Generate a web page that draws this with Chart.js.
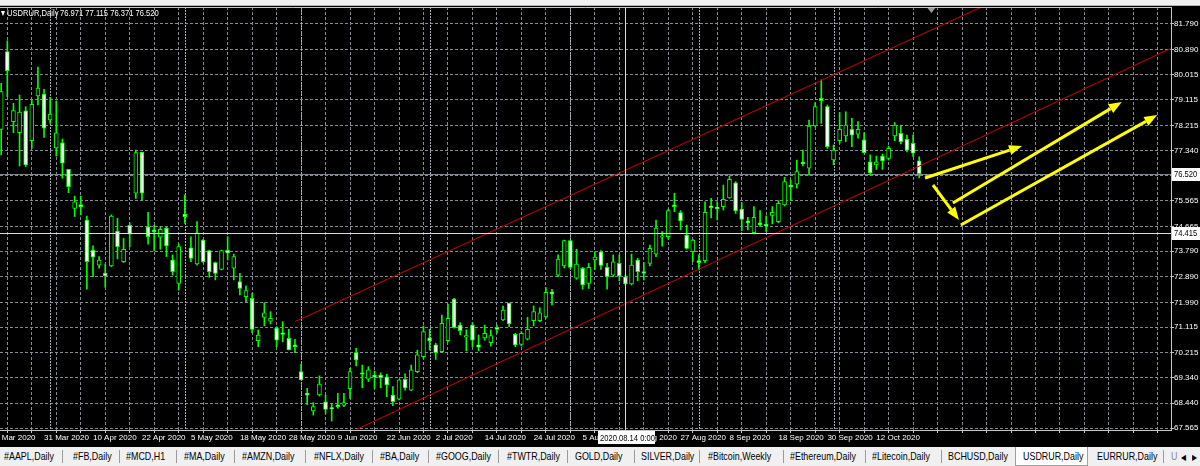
<!DOCTYPE html>
<html>
<head>
<meta charset="utf-8">
<title>USDRUR,Daily</title>
<script src="https://cdn.jsdelivr.net/npm/chart.js@4/dist/chart.umd.min.js"></script>
<style>
  html, body { margin:0; padding:0; width:1200px; height:466px; overflow:hidden; background:#f0f0f0; }
  body { position:relative; font-family:'Liberation Sans',Arial,sans-serif; }
  #topbar { position:absolute; left:0; top:0; width:1200px; height:6px; background:#f0f0f0; border-bottom:1px solid #b4b4b4; box-sizing:border-box; }
  #wrap { position:absolute; left:0; top:6px; width:1200px; height:441px; background:#000; }
  #hdr { position:absolute; left:0; top:7px; width:300px; height:12px; color:#fff; font-size:9.5px; line-height:12px; white-space:nowrap; pointer-events:none; }
  #hdr span { position:absolute; top:0; transform:scaleX(0.8); transform-origin:0 0; }
  #tabs { position:absolute; left:0; top:447px; width:1200px; height:19px; background:#f0f0f0; font-size:11px; line-height:17px; color:#000; }
  #tabs span { position:absolute; top:1px; white-space:nowrap; transform:scaleX(0.81); transform-origin:0 0; }
  #tabs i { position:absolute; top:3px; width:1px; height:13px; background:#9a9a9a; }
  #tabs b { position:absolute; top:0; height:19px; background:#fff; border:1px solid #a0a0a0; border-top:none; box-sizing:border-box; }
</style>
</head>
<body>
<div id="topbar"></div>
<div id="wrap"><canvas id="c" width="1200" height="441"></canvas></div>
<div id="hdr"><span style="left:1px">&#9662;</span><span style="left:7px">USDRUR,Daily</span><span style="left:60px">76.971 77.115 76.371 76.520</span></div>
<div id="tabs">
  <span style="left:4px">#AAPL,Daily</span><i style="left:62px"></i>
  <span style="left:73px">#FB,Daily</span><i style="left:119px"></i>
  <span style="left:126px">#MCD,H1</span><i style="left:176px"></i>
  <span style="left:184px">#MA,Daily</span><i style="left:234px"></i>
  <span style="left:242px">#AMZN,Daily</span><i style="left:305px"></i>
  <span style="left:314px">#NFLX,Daily</span><i style="left:372px"></i>
  <span style="left:380px">#BA,Daily</span><i style="left:428px"></i>
  <span style="left:436px">#GOOG,Daily</span><i style="left:498px"></i>
  <span style="left:507px">#TWTR,Daily</span><i style="left:567px"></i>
  <span style="left:575px">GOLD,Daily</span><i style="left:634px"></i>
  <span style="left:641px">SILVER,Daily</span><i style="left:699px"></i>
  <span style="left:708px">#Bitcoin,Weekly</span><i style="left:783px"></i>
  <span style="left:790px">#Ethereum,Daily</span><i style="left:865px"></i>
  <span style="left:872px">#Litecoin,Daily</span><i style="left:941px"></i>
  <span style="left:948px">BCHUSD,Daily</span>
  <b style="left:1015px;width:73px"></b>
  <span style="left:1023px">USDRUR,Daily</span>
  <span style="left:1097px">EURRUR,Daily</span><i style="left:1163px"></i>
  <span style="left:1171px;color:#888">U</span>
  <span style="left:1181px;font-size:8px;top:2px">&#9664;</span>
  <span style="left:1192px;font-size:8px;top:2px">&#9654;</span>
</div>
<script>
// ---------- data ----------
const xTickLabels = ['9 Mar 2020','31 Mar 2020','10 Apr 2020','22 Apr 2020','5 May 2020','18 May 2020','28 May 2020',
  '9 Jun 2020','22 Jun 2020','2 Jul 2020','14 Jul 2020','24 Jul 2020','5 Aug 2020','17 Aug 2020','27 Aug 2020',
  '8 Sep 2020','18 Sep 2020','30 Sep 2020','12 Oct 2020'];
const yTickValues = [81.790,80.890,80.015,79.115,78.215,77.340,76.440,75.565,74.665,73.790,72.890,71.990,71.115,70.215,69.340,68.440,67.565];
const monthStartIdx = [8,30,49,70,93,114,136];

const openP = [78.08,80.82,78.35,77.96,78.73,77.68,79.26,79.32,78.41,77.43,
  77.61,76.67,75.30,75.43,74.89,73.83,73.30,73.02,73.27,74.50,
  73.42,74.70,75.83,77.28,74.65,74.54,74.28,74.60,73.48,72.66,
  75.10,73.91,73.34,74.18,73.81,73.39,73.15,73.83,73.19,72.72,
  72.19,72.13,70.64,71.46,71.33,71.08,70.92,70.72,70.49,69.55,
  68.79,68.17,68.73,68.49,68.28,68.38,68.36,68.95,70.22,69.51,
  69.28,69.42,69.43,69.37,68.72,68.58,69.28,68.90,69.55,70.08,
  70.74,70.49,70.25,70.64,72.10,71.19,70.76,71.19,70.49,70.74,
  70.57,71.11,71.37,71.96,70.86,70.51,70.69,71.34,71.34,71.48,
  72.36,72.95,73.27,74.16,72.84,73.19,72.66,73.48,73.77,73.22,
  72.95,73.36,72.89,72.64,73.48,73.07,73.36,73.69,74.28,74.30,
  75.42,75.15,74.36,73.77,73.46,73.46,75.39,75.34,75.36,75.67,
  76.20,75.27,74.86,74.44,74.79,74.74,75.05,74.83,75.42,76.12,
  76.15,76.93,76.71,78.20,79.17,78.88,77.00,77.68,77.85,78.08,
  77.91,77.71,76.94,76.83,77.14,77.06,77.85,77.94,77.73,77.59,
  76.971];
const highP = [79.70,81.20,79.00,79.29,78.88,79.11,80.27,79.49,79.21,79.08,
  77.74,76.67,75.73,75.73,75.03,73.98,73.60,73.34,75.07,74.95,
  74.24,74.79,77.35,77.28,75.16,74.71,74.65,74.63,73.66,74.04,
  75.77,74.30,74.83,74.21,73.83,73.41,73.83,74.30,73.69,73.01,
  72.57,72.31,71.02,71.98,71.66,71.13,71.31,71.04,70.69,69.82,
  68.96,68.46,69.40,68.73,68.43,68.79,68.79,69.67,70.37,69.78,
  69.72,69.57,69.51,69.46,69.02,69.26,69.47,69.78,70.31,71.16,
  71.04,70.55,71.54,71.93,72.13,71.27,71.02,71.27,70.84,71.19,
  71.02,71.19,71.86,71.96,70.90,70.96,71.46,71.86,71.80,72.51,
  72.45,73.66,74.18,74.18,73.86,73.22,73.36,73.77,73.81,73.36,
  73.66,73.66,72.95,73.69,73.54,73.39,74.01,74.89,74.48,75.27,
  75.83,75.22,74.71,74.21,73.66,75.53,75.65,75.53,76.12,76.44,
  76.24,75.50,74.98,75.36,75.22,75.03,75.36,75.57,76.39,76.30,
  77.00,77.35,78.41,79.02,79.82,78.94,77.53,78.67,78.70,78.47,
  78.35,77.96,77.18,77.14,77.21,77.49,78.32,78.23,77.88,77.88,
  77.115];
const lowP = [77.18,79.23,77.96,76.79,76.77,77.41,78.94,77.80,78.29,77.14,
  76.36,75.85,75.01,75.07,72.45,72.89,73.19,72.52,73.24,73.52,
  73.39,73.95,75.65,75.59,74.04,73.80,73.86,73.60,72.95,72.42,
  74.77,73.42,73.30,73.39,72.87,72.78,73.13,73.48,72.78,72.25,
  72.01,70.92,70.43,71.16,71.23,70.43,70.60,70.31,70.22,69.26,
  68.38,68.02,68.69,68.08,67.81,68.26,68.32,68.61,69.75,68.98,
  69.20,68.96,68.98,68.67,68.35,68.55,68.90,68.88,69.51,70.02,
  70.31,69.98,70.22,70.60,71.08,70.84,70.28,70.43,70.28,70.66,
  70.45,70.90,71.34,71.13,70.43,70.45,70.66,71.16,71.31,71.43,
  71.90,72.89,73.20,73.16,72.80,72.45,72.48,73.15,73.15,72.45,
  72.89,72.75,72.60,72.60,72.75,72.78,73.27,73.60,73.97,74.21,
  75.18,74.54,73.86,73.42,73.13,73.39,74.96,74.89,75.24,75.65,
  75.12,74.51,74.54,74.40,74.65,74.48,74.75,74.79,75.38,75.57,
  76.01,76.79,76.47,78.17,78.29,77.41,76.83,77.59,77.65,77.47,
  77.77,77.24,76.47,76.67,76.67,77.00,77.68,77.57,77.29,77.12,
  76.371];
const closeP = [79.41,80.15,78.74,78.69,76.83,78.96,79.53,78.12,78.62,77.96,
  76.89,76.06,75.53,75.35,73.42,73.58,73.48,72.92,75.03,73.95,
  73.86,74.39,77.26,75.83,74.30,74.47,74.56,73.98,73.07,73.95,
  75.01,73.54,74.44,73.42,73.07,73.01,73.81,73.72,73.60,72.48,
  72.40,71.04,70.84,71.62,71.43,70.66,70.86,70.31,70.43,69.26,
  68.72,68.32,69.11,68.22,68.25,68.32,68.46,69.55,69.96,69.46,
  69.61,69.36,69.34,69.08,68.49,69.26,68.98,69.61,70.14,70.96,
  70.63,70.22,71.25,71.43,71.11,70.99,70.82,70.66,70.41,70.90,
  70.82,71.04,71.72,71.23,70.49,70.90,71.04,71.66,71.62,72.34,
  72.28,73.51,74.16,73.22,73.34,72.60,73.22,73.58,73.29,72.89,
  73.42,72.92,72.64,73.30,73.07,73.01,73.89,74.60,74.33,75.22,
  75.36,74.86,73.89,74.18,73.39,75.16,75.32,75.29,75.62,76.32,
  75.21,74.91,74.79,74.98,74.72,74.68,75.16,75.48,76.24,76.05,
  76.59,76.86,78.20,78.88,79.09,77.47,77.35,78.08,78.23,77.88,
  78.08,77.26,76.55,76.94,76.97,77.41,78.23,77.65,77.35,77.24,
  76.520];

// trend channel (bar index, price)
const upperChannel = [{x:48.0, y:71.31}, {x:170.0, y:83.36}];
const lowerChannel = [{x:58.1, y:67.52}, {x:191.0, y:80.92}];

// hand-drawn arrows (bar index, price)
const arrowFromIdx = [150.95, 152.25, 155.5, 156.8];
const arrowFromVal = [76.367, 76.121, 75.487, 74.713];
const arrowToIdx   = [166.8, 156.5, 183.1, 188.9];
const arrowToVal   = [77.494, 74.889, 79.044, 78.586];

const bidPrice = 76.520;
const crossIdx = 102;
const crossPrice = 74.415;
const crossLabel = '2020.08.14 0:00';
const shiftIdx = 152;

// ---------- build ----------
const barIdx = openP.map((_, i) => i);
const bodies = barIdx.map(i => ({x: i, y: [openP[i], closeP[i]]}));
const wicks = barIdx.map(i => ({x: i, y: [lowP[i], highP[i]]}));
const bodyFill = barIdx.map(i => closeP[i] < openP[i] ? '#ffffff' : '#000000');

const FONT = "'Liberation Sans',Arial,sans-serif";

const overlay = {
  id: 'mtOverlay',
  beforeDatasetsDraw(chart) {
    const {ctx, chartArea: a, scales: {x, y}} = chart;
    ctx.save();
    ctx.beginPath(); ctx.rect(a.left, a.top, a.right - a.left, a.bottom - a.top); ctx.clip();
    ctx.lineWidth = 1;
    ctx.strokeStyle = '#a7b0ba';
    ctx.setLineDash([2, 1]);
    monthStartIdx.forEach(i => {
      const px = Math.round(x.getPixelForValue(i)) + 0.5;
      ctx.beginPath(); ctx.moveTo(px, a.top); ctx.lineTo(px, a.bottom); ctx.stroke();
    });
    ctx.setLineDash([]);
    ctx.strokeStyle = '#7d8791';
    const by = Math.round(y.getPixelForValue(bidPrice)) + 0.5;
    ctx.beginPath(); ctx.moveTo(a.left, by); ctx.lineTo(a.right, by); ctx.stroke();
    ctx.restore();
  },
  afterDatasetsDraw(chart) {
    const {ctx, chartArea: a, scales: {x, y}} = chart;
    ctx.save();
    ctx.beginPath(); ctx.rect(a.left, a.top, a.right - a.left, a.bottom - a.top); ctx.clip();
    ctx.strokeStyle = '#ffff00'; ctx.fillStyle = '#ffff00'; ctx.lineWidth = 3; ctx.lineCap = 'butt';
    arrowFromIdx.forEach((_, k) => {
      const x1 = x.getPixelForValue(arrowFromIdx[k]), y1 = y.getPixelForValue(arrowFromVal[k]);
      const x2 = x.getPixelForValue(arrowToIdx[k]), y2 = y.getPixelForValue(arrowToVal[k]);
      const ang = Math.atan2(y2 - y1, x2 - x1);
      const head = 13, hw = 5;
      const bx = x2 - head * Math.cos(ang), byy = y2 - head * Math.sin(ang);
      ctx.beginPath(); ctx.moveTo(x1, y1); ctx.lineTo(bx, byy); ctx.stroke();
      ctx.beginPath();
      ctx.moveTo(x2, y2);
      ctx.lineTo(bx + hw * Math.sin(ang), byy - hw * Math.cos(ang));
      ctx.lineTo(bx - hw * Math.sin(ang), byy + hw * Math.cos(ang));
      ctx.closePath(); ctx.fill();
    });
    ctx.strokeStyle = '#dcdcdc'; ctx.lineWidth = 1;
    const cx = Math.round(x.getPixelForValue(crossIdx)) + 0.5;
    const cy = Math.round(y.getPixelForValue(crossPrice)) + 0.5;
    ctx.beginPath(); ctx.moveTo(cx, a.top); ctx.lineTo(cx, a.bottom); ctx.stroke();
    ctx.beginPath(); ctx.moveTo(a.left, cy); ctx.lineTo(a.right, cy); ctx.stroke();
    ctx.restore();
  },
  afterDraw(chart) {
    const {ctx, chartArea: a, scales: {x, y}} = chart;
    ctx.save();
    ctx.strokeStyle = '#c8c8c8'; ctx.lineWidth = 1;
    ctx.beginPath(); ctx.moveTo(a.left, a.top + 0.5); ctx.lineTo(a.right, a.top + 0.5); ctx.stroke();
    const sx = x.getPixelForValue(shiftIdx);
    ctx.fillStyle = '#9a9a9a';
    ctx.beginPath(); ctx.moveTo(sx - 4, a.top + 1); ctx.lineTo(sx + 4, a.top + 1); ctx.lineTo(sx, a.top + 6); ctx.closePath(); ctx.fill();
    ctx.font = '9.5px ' + FONT; ctx.textBaseline = 'middle'; ctx.textAlign = 'left';
    const squeezed = (txt, tx, ty) => {
      ctx.save(); ctx.translate(tx, ty); ctx.scale(0.8, 1); ctx.fillText(txt, 0, 0); ctx.restore();
    };
    const priceBox = (val) => {
      const py = Math.round(y.getPixelForValue(val));
      ctx.fillStyle = '#ffffff';
      ctx.fillRect(a.right + 1, py - 6, 28, 13);
      ctx.fillStyle = '#000000';
      squeezed(val.toFixed(3), a.right + 3, py + 0.5);
    };
    priceBox(bidPrice);
    priceBox(crossPrice);
    const cx = Math.round(x.getPixelForValue(crossIdx));
    ctx.fillStyle = '#ffffff';
    ctx.fillRect(cx - 27, a.bottom + 1, 57, 13);
    ctx.fillStyle = '#000000';
    squeezed(crossLabel, cx - 25, a.bottom + 8);
    ctx.restore();
  }
};

const PX_PER_BAR = 6.12;
new Chart(document.getElementById('c'), {
  type: 'bar',
  data: {
    datasets: [
      {type: 'line', label: 'Channel upper', data: upperChannel, borderColor: '#d00000', borderWidth: 1, pointRadius: 0, order: 0},
      {type: 'line', label: 'Channel lower', data: lowerChannel, borderColor: '#d00000', borderWidth: 1, pointRadius: 0, order: 0},
      {label: 'Body', data: bodies, backgroundColor: bodyFill, borderColor: '#00ff00', borderWidth: 1,
       borderSkipped: false, barThickness: 4, grouped: false, order: 1},
      {label: 'Wick', data: wicks, backgroundColor: '#00ff00', borderWidth: 0,
       barThickness: 1, grouped: false, order: 2}
    ]
  },
  options: {
    responsive: false,
    animation: false,
    events: [],
    layout: {padding: {top: 1, left: 0, right: 0, bottom: 0}},
    plugins: {legend: {display: false}, tooltip: {enabled: false}, title: {display: false}},
    scales: {
      x: {
        type: 'linear',
        position: 'bottom',
        offset: false,
        min: -1.2 / PX_PER_BAR,
        max: (1171 - 1.2) / PX_PER_BAR,
        afterFit: s => { s.height = 17; s.paddingLeft = 0; s.paddingRight = 0; s.paddingTop = 0; s.paddingBottom = 0; },
        afterBuildTicks: s => {
          const t = [];
          for (let v = -1; v <= 191; v += 4) t.push({value: v});
          s.ticks = t;
        },
        ticks: {
          autoSkip: false, maxRotation: 0, minRotation: 0, align: 'start', padding: 0,
          color: '#ffffff', font: {family: FONT, size: 8},
          callback: v => { const j = (v + 1) / 8; return (Number.isInteger(j) && j >= 0 && j < xTickLabels.length) ? xTickLabels[j] : ''; }
        },
        grid: {color: '#838c96', lineWidth: 1, drawTicks: true, tickLength: 3, tickColor: '#c8c8c8', tickBorderDash: []},
        border: {display: true, color: '#c8c8c8', width: 1, dash: [3, 2]}
      },
      y: {
        type: 'linear',
        position: 'right',
        min: 67.565 - 2 / 28.401,
        max: 81.79 + 17 / 28.401,
        afterFit: s => { s.width = 29; s.paddingLeft = 0; s.paddingRight = 0; s.paddingTop = 0; s.paddingBottom = 0; },
        afterBuildTicks: s => { s.ticks = yTickValues.map(v => ({value: v})); },
        ticks: {
          autoSkip: false, padding: 0, color: '#ffffff', font: {family: FONT, size: 8},
          callback: v => Number(v).toFixed(3)
        },
        grid: {color: '#838c96', lineWidth: 1, drawTicks: true, tickLength: 3, tickColor: '#c8c8c8', tickBorderDash: []},
        border: {display: true, color: '#c8c8c8', width: 1, dash: [3, 2]}
      }
    }
  },
  plugins: [overlay]
});
</script>
</body>
</html>
